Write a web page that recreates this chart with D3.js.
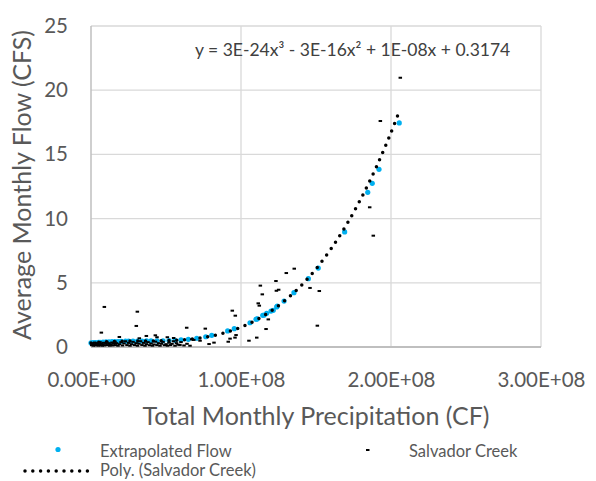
<!DOCTYPE html>
<html>
<head>
<meta charset="utf-8">
<script src="https://cdn.jsdelivr.net/npm/d3@7"></script>
<style>
  html, body { margin: 0; padding: 0; background: #fff; }
  svg { display: block; font-family: Lato, "Open Sans", sans-serif; }
</style>
</head>
<body>
<svg id="chart" width="596" height="481"></svg>
<script>
// ---- Data ----
const xTickValues = [0, 1e8, 2e8, 3e8];
const xTickLabels = ["0.00E+00", "1.00E+08", "2.00E+08", "3.00E+08"];
const yTickValues = [0, 5, 10, 15, 20, 25];
const yTickLabels = ["0", "5", "10", "15", "20", "25"];

// Salvador Creek observations (Total Monthly Precipitation CF, Average Monthly Flow CFS)
const creekX = [
  2.062e8, 1.929e8, 1.858e8, 1.882e8, 1.355e8, 1.302e8, 1.233e8, 1.129e8, 1.46e8, 1.522e8,
  1.251e8, 1.236e8, 1.142e8, 1.115e8, 1.122e8, 1.182e8, 1.509e8, 1.167e8, 0.942e8, 0.962e8,
  0.762e8, 0.638e8, 0.967e8, 0.96e8, 0.927e8, 0.915e8, 1.053e8, 1.105e8, 0.82e8, 0.787e8,
  0.727e8, 0.685e8, 0.671e8, 0.593e8,
  0.089e8, 0.309e8, 0.302e8, 0.069e8, 0.189e8, 0.369e8, 0.429e8, 0.44e8, 0.509e8, 0.322e8, 0.551e8,
  0.005e8, 0.01e8, 0.015e8, 0.02e8, 0.025e8, 0.03e8, 0.035e8, 0.04e8, 0.045e8, 0.05e8,
  0.055e8, 0.06e8, 0.065e8, 0.07e8, 0.075e8, 0.08e8, 0.085e8, 0.09e8, 0.1e8, 0.105e8,
  0.11e8, 0.12e8, 0.125e8, 0.13e8, 0.14e8, 0.145e8, 0.15e8, 0.16e8, 0.165e8, 0.17e8,
  0.18e8, 0.19e8, 0.2e8, 0.21e8, 0.22e8, 0.23e8, 0.24e8, 0.25e8, 0.26e8, 0.27e8,
  0.28e8, 0.29e8, 0.3e8, 0.31e8, 0.32e8, 0.33e8, 0.34e8, 0.35e8, 0.36e8, 0.37e8,
  0.38e8, 0.39e8, 0.4e8, 0.41e8, 0.42e8, 0.43e8, 0.44e8, 0.45e8, 0.46e8, 0.47e8,
  0.48e8, 0.49e8, 0.5e8, 0.51e8, 0.52e8, 0.53e8, 0.54e8, 0.55e8, 0.56e8, 0.57e8,
  0.58e8, 0.6e8, 0.62e8, 0.64e8, 0.66e8
];
const creekY = [
  20.97, 17.6, 10.88, 8.67, 6.1, 5.76, 5.14, 4.78, 4.6, 4.36,
  4.46, 4.38, 4.1, 3.4, 3.22, 2.15, 1.66, 1.4, 2.83, 2.44,
  1.43, 1.5, 0.93, 0.73, 0.65, 0.41, 0.49, 0.73, 0.34, 0.23,
  0.49, 0.55, 0.6, 0.16,
  3.12, 2.75, 1.64, 1.12, 0.78, 0.86, 0.91, 0.76, 0.76, 0.68, 0.70,
  0.15, 0.3, 0.1, 0.22, 0.35, 0.12, 0.25, 0.18, 0.3, 0.1,
  0.2, 0.38, 0.14, 0.27, 0.1, 0.2, 0.33, 0.12, 0.25, 0.4,
  0.15, 0.3, 0.1, 0.2, 0.35, 0.12, 0.25, 0.42, 0.15, 0.3,
  0.1, 0.22, 0.38, 0.12, 0.28, 0.45, 0.15, 0.32, 0.1, 0.22,
  0.4, 0.15, 0.3, 0.1, 0.25, 0.45, 0.15, 0.32, 0.1, 0.22,
  0.38, 0.14, 0.28, 0.1, 0.2, 0.42, 0.15, 0.3, 0.1, 0.25,
  0.4, 0.14, 0.22, 0.1, 0.33, 0.15, 0.25, 0.45, 0.1, 0.3,
  0.18, 0.38, 0.12, 0.25, 0.1
];

// Extrapolated Flow
const extrapX = [
  0, 0.01e8, 0.02e8, 0.03e8, 0.05e8, 0.06e8, 0.08e8, 0.10e8, 0.12e8, 0.14e8,
  0.16e8, 0.18e8, 0.20e8, 0.23e8, 0.25e8, 0.28e8, 0.31e8, 0.34e8, 0.37e8, 0.40e8,
  0.44e8, 0.48e8, 0.52e8, 0.56e8, 0.60e8, 0.649e8, 0.705e8, 0.765e8, 0.805e8, 0.911e8,
  0.955e8, 1.06e8, 1.10e8, 1.105e8, 1.109e8, 1.145e8, 1.155e8, 1.171e8, 1.20e8, 1.215e8,
  1.238e8, 1.242e8, 1.287e8, 1.353e8, 1.449e8, 1.515e8, 1.691e8, 1.845e8, 1.875e8, 1.92e8,
  2.055e8
];
const extrapY = [
  0.32, 0.33, 0.34, 0.35, 0.36, 0.37, 0.38, 0.40, 0.41, 0.42,
  0.43, 0.43, 0.44, 0.45, 0.45, 0.46, 0.46, 0.46, 0.47, 0.47,
  0.48, 0.48, 0.50, 0.52, 0.55, 0.60, 0.68, 0.80, 0.91, 1.25,
  1.43, 1.89, 2.16, 2.18, 2.20, 2.47, 2.49, 2.62, 2.80, 2.86,
  3.12, 3.19, 3.58, 4.23, 5.32, 6.15, 8.96, 12.05, 12.75, 13.84,
  17.45
];

// Poly. (Salvador Creek) trendline
const trendX = [0, 0.1e8, 0.2e8, 0.3e8, 0.4e8, 0.5e8, 0.6e8, 0.7e8, 0.8e8, 0.9e8, 1.0e8,
  1.1e8, 1.2e8, 1.3e8, 1.4e8, 1.5e8, 1.6e8, 1.7e8, 1.8e8, 1.9e8, 2.0e8, 2.053e8];
const trendY = [0.32, 0.40, 0.45, 0.46, 0.47, 0.49, 0.55, 0.66, 0.85, 1.14, 1.55,
  2.09, 2.80, 3.69, 4.77, 6.08, 7.64, 9.46, 11.56, 13.96, 16.7, 18.28];

const equationText = "y = 3E-24x³ - 3E-16x² + 1E-08x + 0.3174";
const xTitle = "Total Monthly Precipitation (CF)";
const yTitle = "Average Monthly Flow (CFS)";
const legendLabels = ["Extrapolated Flow", "Salvador Creek", "Poly. (Salvador Creek)"];

// ---- Drawing ----
const svg = d3.select("#chart");
const textColor = "#595959";
const gridColor = "#d9d9d9";
const axisColor = "#bfbfbf";
const blue = "#00b0f0";

const x = d3.scaleLinear().domain([0, 3e8]).range([91, 541]);
const y = d3.scaleLinear().domain([0, 25]).range([347, 26]);

// gridlines
svg.append("g").selectAll("line.h").data(yTickValues.filter(v => v > 0)).join("line")
  .attr("x1", x(0)).attr("x2", x(3e8))
  .attr("y1", d => y(d)).attr("y2", d => y(d))
  .attr("stroke", gridColor).attr("stroke-width", 1.3);
svg.append("g").selectAll("line.v").data(xTickValues.filter(v => v > 0)).join("line")
  .attr("x1", d => x(d)).attr("x2", d => x(d))
  .attr("y1", y(0)).attr("y2", y(25))
  .attr("stroke", gridColor).attr("stroke-width", 1.3);

// axes lines
svg.append("line").attr("x1", x(0)).attr("x2", x(0)).attr("y1", y(25)).attr("y2", y(0))
  .attr("stroke", axisColor).attr("stroke-width", 1.5);
svg.append("line").attr("x1", x(0)).attr("x2", x(3e8)).attr("y1", y(0)).attr("y2", y(0))
  .attr("stroke", axisColor).attr("stroke-width", 2);

// axes labels via d3 axes
const xAxis = d3.axisBottom(x).tickValues(xTickValues)
  .tickFormat((d, i) => xTickLabels[i]).tickSize(0).tickPadding(25);
const gx = svg.append("g").attr("transform", `translate(0,${y(0)})`).call(xAxis);
gx.select(".domain").remove();
gx.selectAll("text").attr("fill", textColor).style("font-size", "20.5px")
  .style("font-family", "Lato, sans-serif");

const yAxis = d3.axisLeft(y).tickValues(yTickValues)
  .tickFormat((d, i) => yTickLabels[i]).tickSize(0).tickPadding(23);
const gy = svg.append("g").attr("transform", `translate(${x(0)},0)`).call(yAxis);
gy.select(".domain").remove();
gy.selectAll("text").attr("fill", textColor).style("font-size", "20.5px")
  .style("font-family", "Lato, sans-serif");

// series: Extrapolated Flow
const extrap = extrapX.map((v, i) => [v, extrapY[i]]);
svg.append("g").selectAll("circle").data(extrap).join("circle")
  .attr("cx", d => x(d[0])).attr("cy", d => y(d[1])).attr("r", 2.6)
  .attr("fill", blue);

// series: Salvador Creek (dash markers)
const creek = creekX.map((v, i) => [v, creekY[i]]);
svg.append("g").selectAll("rect").data(creek).join("rect")
  .attr("x", d => x(d[0]) - 1.75).attr("y", d => y(d[1]) - 1)
  .attr("width", 3.5).attr("height", 2).attr("fill", "#000");

// trendline
const trend = trendX.map((v, i) => [v, trendY[i]]);
const line = d3.line().x(d => x(d[0])).y(d => y(d[1])).curve(d3.curveCatmullRom);
svg.append("path").datum(trend).attr("d", line)
  .attr("fill", "none").attr("stroke", "#000").attr("stroke-width", 3.5)
  .attr("stroke-linecap", "round").attr("stroke-dasharray", "0 7.8");

// equation
svg.append("text").attr("x", 195).attr("y", 56).text(equationText)
  .attr("fill", "#404040").style("font-size", "17.5px");

// axis titles
svg.append("text").attr("x", (x(0) + x(3e8)) / 2).attr("y", 425)
  .attr("text-anchor", "middle").attr("fill", textColor).style("font-size", "25px")
  .text(xTitle);
svg.append("text").attr("transform", "translate(31,185) rotate(-90)")
  .attr("text-anchor", "middle").attr("fill", textColor).style("font-size", "25px")
  .text(yTitle);

// legend
const lg = svg.append("g");
lg.append("circle").attr("cx", 58).attr("cy", 449.5).attr("r", 2.6).attr("fill", blue);
lg.append("text").attr("x", 100).attr("y", 457).attr("fill", textColor)
  .style("font-size", "16.5px").text(legendLabels[0]);
lg.append("rect").attr("x", 366).attr("y", 449).attr("width", 3.5).attr("height", 2).attr("fill", "#000");
lg.append("text").attr("x", 409).attr("y", 457).attr("fill", textColor)
  .style("font-size", "16.5px").text(legendLabels[1]);
lg.append("line").attr("x1", 25).attr("x2", 88).attr("y1", 471).attr("y2", 471)
  .attr("stroke", "#000").attr("stroke-width", 3.5).attr("stroke-linecap", "round")
  .attr("stroke-dasharray", "0 7.8");
lg.append("text").attr("x", 100).attr("y", 476).attr("fill", textColor)
  .style("font-size", "16.5px").text(legendLabels[2]);
</script>
</body>
</html>
